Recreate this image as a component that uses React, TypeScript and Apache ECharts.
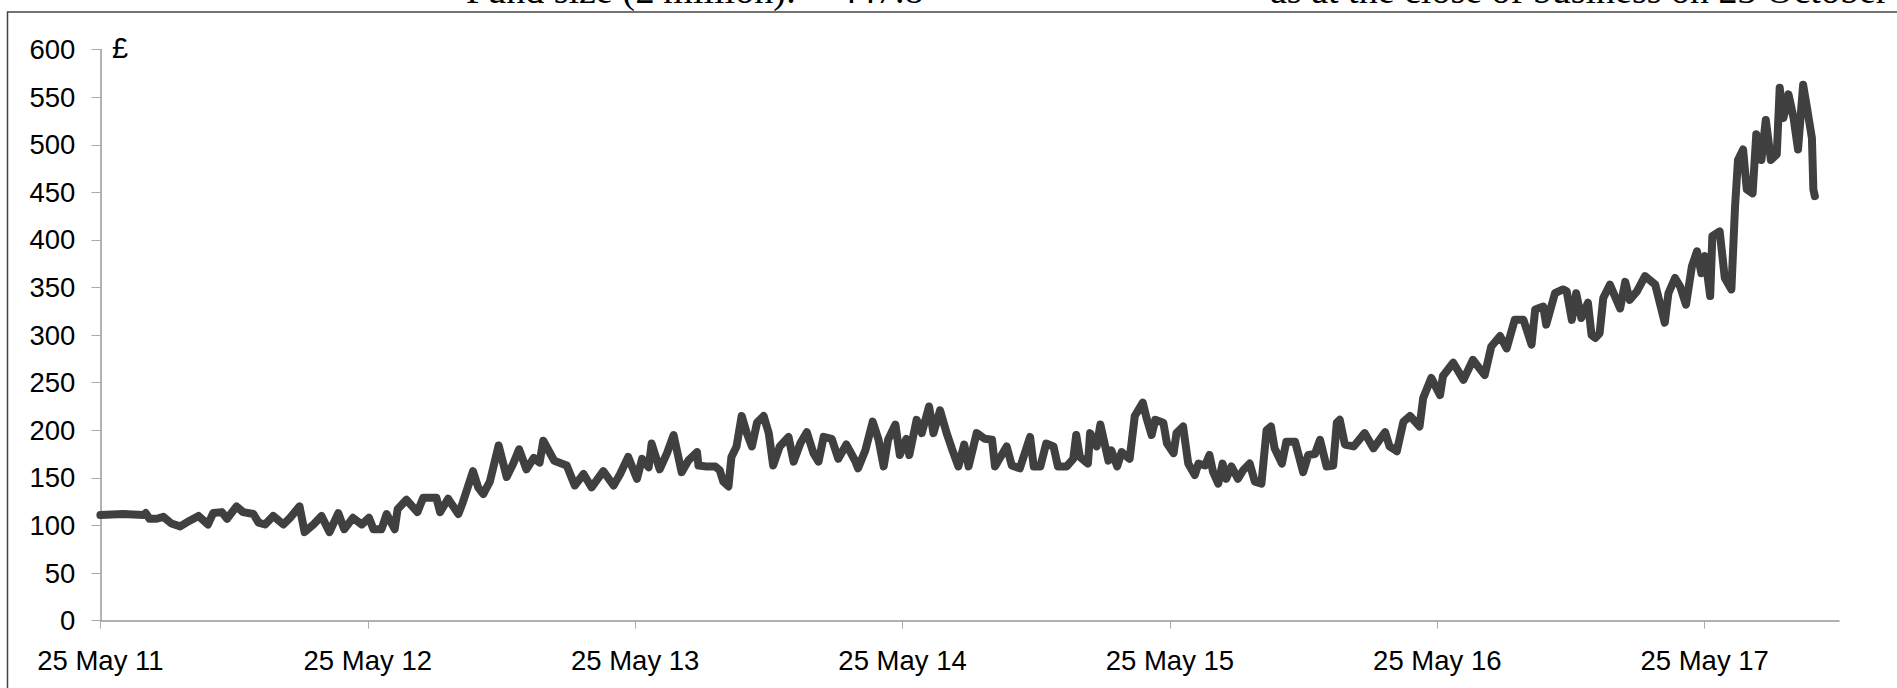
import React, { useEffect, useRef } from "react";
import * as echarts from "echarts";

// Days elapsed since 25 May 2011 for each reading
const dayOffsets: number[] = [
  0, 31, 59, 62, 67, 77, 86, 97, 109, 122, 134, 147, 154, 166, 173, 186, 195, 209, 216, 225,
  236, 250, 259, 272, 279, 291, 302, 313, 325, 333, 345, 357, 367, 373, 384, 391, 402, 406, 418, 433,
  441, 459, 464, 475, 489, 495, 509, 516, 523, 532, 544, 555, 564, 572, 582, 592, 600, 605, 620,
  637, 648, 660, 671, 687, 701, 710, 721, 733, 740, 749, 753, 764, 774, 783, 794, 803, 815, 817, 828,
  840, 846, 851, 858, 862, 869, 876, 883, 890, 897, 906, 913, 919, 928, 940, 947, 956, 965, 974, 981,
  988, 999, 1008, 1019, 1031, 1035, 1045, 1055, 1063, 1070, 1076, 1086, 1092, 1101, 1105, 1115, 1122, 1132, 1138, 1147,
  1156, 1163, 1172, 1180, 1186, 1197, 1208, 1218, 1222, 1238, 1245, 1256, 1270, 1275, 1284,
  1292, 1302, 1308, 1320, 1329, 1333, 1338, 1349, 1352, 1361, 1366, 1377, 1381, 1389, 1395, 1406, 1413, 1424, 1429, 1436,
  1441, 1452, 1457, 1466, 1470, 1479, 1486, 1495, 1500, 1509, 1515, 1520, 1527, 1533, 1538, 1545, 1554, 1561, 1570, 1577,
  1586, 1593, 1599, 1604, 1614, 1620, 1632, 1643, 1650, 1659, 1666, 1675, 1684, 1689, 1693, 1700, 1712, 1727, 1739, 1755,
  1761, 1771,
  1780, 1789, 1802, 1807, 1818, 1830, 1834, 1848, 1862, 1875, 1891, 1900, 1912, 1921, 1932, 1944, 1955, 1960, 1971, 1975,
  1987, 1998, 2003, 2010, 2016, 2023, 2032, 2037, 2042, 2048, 2053, 2062, 2076, 2083, 2089, 2099, 2110, 2124, 2137, 2142,
  2151, 2158, 2166, 2174, 2181, 2187, 2192, 2199, 2202, 2212, 2219, 2228, 2233, 2237, 2244, 2249, 2257, 2262, 2269, 2275,
  2282, 2290, 2294, 2299, 2306, 2313, 2319, 2326, 2331, 2338, 2340, 2342,
];

// Value (£) at each reading
const fundValues: number[] = [
  111, 112, 111, 113, 107, 107, 109, 102, 99, 105, 110, 101, 113, 114, 107, 120, 114, 112, 103, 101,
  110, 101, 108, 120, 93, 101, 110, 93, 113, 96, 108, 101, 108, 96, 96, 112, 96, 117, 127, 114,
  129, 129, 114, 128, 112, 124, 157, 140, 133, 146, 184, 151, 165, 180, 159, 171, 166, 189, 168,
  163, 142, 154, 140, 157, 142, 154, 172, 149, 170, 161, 186, 159, 176, 195, 156, 168, 177, 163, 162,
  162, 158, 146, 141, 172, 183, 215, 197, 183, 208, 215, 197, 163, 183, 193, 167, 186, 198, 176, 167,
  193, 191, 170, 185, 168, 160, 179, 209, 190, 162, 190, 206, 174, 191, 174, 211, 197, 225, 197, 221,
  197, 181, 162, 185, 162, 197, 191, 190, 162, 183, 163, 160, 193, 162, 162,
  186, 183, 162, 162, 170, 195, 172, 165, 197, 183, 206, 168, 179, 162, 177, 170, 215, 229, 213, 195,
  211, 208, 186, 176, 197, 204, 165, 153, 165, 163, 174, 156, 144, 165, 149, 162, 149, 158, 165, 146,
  144, 200, 204, 181, 165, 188, 188, 156, 174, 175, 190, 162, 163, 208, 211, 185, 183, 197, 181, 198,
  183, 178,
  209, 215, 204, 234, 255, 237, 257, 271, 253, 274, 258, 288, 299, 286, 316, 316, 290, 327, 330, 311,
  344, 348, 346, 316, 344, 318, 334, 300, 297, 302, 339, 353, 328, 356, 337, 346, 362, 353, 313, 344,
  360, 351, 332, 372, 388, 365, 383, 341, 404, 409, 360, 348, 435, 484, 495, 453, 449, 511, 484, 526,
  484, 490, 560, 528, 553, 528, 495, 563, 540, 507, 453, 446,
];

const xTickLabels: string[] = [
  "25 May 11", "25 May 12", "25 May 13", "25 May 14", "25 May 15", "25 May 16", "25 May 17",
];

const headerLeft = "Fund size (£ million):";
const headerValue = "447.8";
const headerRight = "as at the close of business on 23 October 2017";

const DAYS_PER_YEAR = 365.25;
const AXIS_MAX_DAYS = 2375;

export default function App() {
  const ref = useRef<HTMLDivElement>(null);

  useEffect(() => {
    if (!ref.current) return;
    const chart = echarts.init(ref.current, null, { renderer: "svg" });
    const tickValues = xTickLabels.map((_, i) => i * DAYS_PER_YEAR);
    const axisFont = "'Liberation Sans', Arial, sans-serif";
    const serifFont = "'Liberation Serif', 'Times New Roman', serif";
    const headerStyle = {
      fontSize: 38,
      fontFamily: serifFont,
      fill: "#000000",
      verticalAlign: "bottom",
      align: "left",
    };

    chart.setOption({
      animation: false,
      backgroundColor: "#ffffff",
      grid: { left: 100.4, top: 49.6, width: 1738.6, height: 571, containLabel: false },
      xAxis: {
        type: "value",
        min: 0,
        max: AXIS_MAX_DAYS,
        interval: DAYS_PER_YEAR,
        splitLine: { show: false },
        axisLine: { show: true, lineStyle: { color: "#999999", width: 1.5 } },
        axisTick: {
          show: true,
          length: 8,
          customValues: tickValues,
          lineStyle: { color: "#aaaaaa", width: 1 },
        },
        axisLabel: {
          customValues: tickValues,
          margin: 26,
          color: "#000000",
          fontSize: 27.5,
          fontFamily: axisFont,
          formatter: (v: number) => xTickLabels[Math.round(v / DAYS_PER_YEAR)] ?? "",
        },
      },
      yAxis: {
        type: "value",
        min: 0,
        max: 600,
        interval: 50,
        splitLine: { show: false },
        axisLine: { show: true, lineStyle: { color: "#999999", width: 1.5 } },
        axisTick: { show: true, length: 9, lineStyle: { color: "#aaaaaa", width: 1 } },
        axisLabel: {
          margin: 25,
          color: "#000000",
          fontSize: 27.5,
          fontFamily: axisFont,
        },
      },
      graphic: [
        {
          type: "rect",
          shape: { x: 7.5, y: 12, width: 2000, height: 800 },
          style: { fill: "none", stroke: "#444444", lineWidth: 1.5 },
          silent: true,
        },
        {
          type: "text",
          x: 112,
          y: 48,
          style: {
            text: "£",
            fontSize: 29,
            fontFamily: axisFont,
            fill: "#000000",
            verticalAlign: "middle",
            align: "left",
          },
        },
        { type: "text", x: 466, y: 9, style: { ...headerStyle, text: headerLeft } },
        { type: "text", x: 838, y: 9, style: { ...headerStyle, text: headerValue } },
        { type: "text", x: 1270, y: 9, style: { ...headerStyle, text: headerRight } },
      ],
      series: [
        {
          type: "line",
          data: dayOffsets.map((d, i) => [d, fundValues[i]]),
          showSymbol: false,
          symbol: "none",
          lineStyle: { color: "#404040", width: 8, cap: "round", join: "round" },
          silent: true,
        },
      ],
    });

    return () => chart.dispose();
  }, []);

  return (
    <div
      ref={ref}
      style={{ position: "absolute", left: 0, top: 0, width: "1897px", height: "688px" }}
    />
  );
}
